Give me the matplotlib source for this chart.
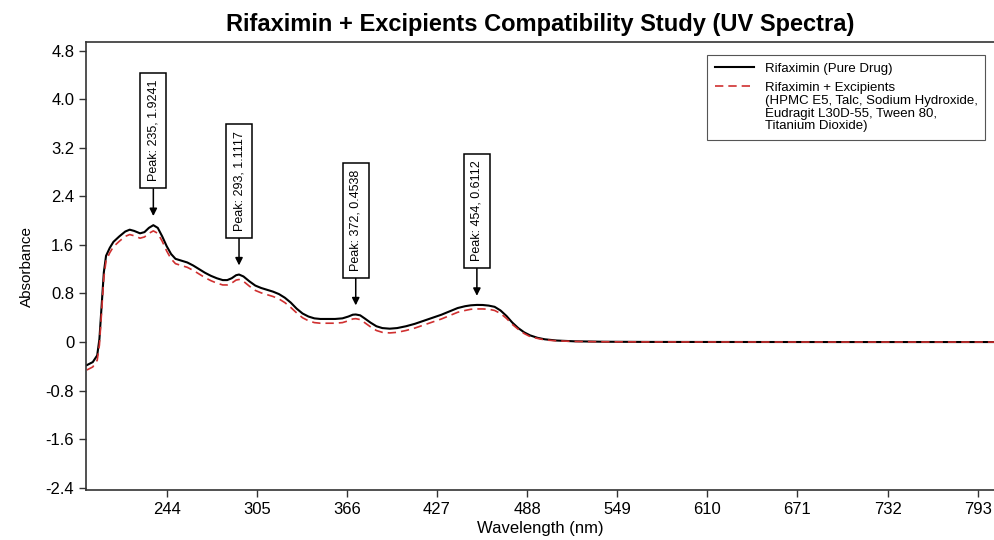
import matplotlib
matplotlib.use("Agg")
import matplotlib.pyplot as plt

plt.rcParams['font.family'] = ['Liberation Sans', 'DejaVu Sans']

# wavelength (nm) and absorbance
wavelength = [190, 194, 197, 198.5, 200, 201.5, 203, 205.5, 208, 212, 216, 219, 222, 226,
              229, 232, 235, 238, 241, 244, 247, 250, 254, 258, 262, 266, 270, 274, 278,
              282, 285, 288, 291, 293, 296, 300, 304, 308, 312, 316, 320, 324, 328, 332,
              336, 340, 344, 348, 353, 358, 363, 367, 370, 372, 375, 378, 382, 386, 390,
              395, 400, 406, 412, 418, 424, 430, 436, 441, 446, 450, 454, 458, 462, 466,
              470, 474, 478, 482, 486, 490, 495, 500, 508, 520, 540, 570, 620, 700, 805]

pure_drug = [-0.38, -0.33, -0.22, 0.05, 0.60, 1.15, 1.42, 1.55, 1.65, 1.74, 1.82, 1.85, 1.83, 1.79,
             1.81, 1.88, 1.9241, 1.88, 1.74, 1.58, 1.45, 1.37, 1.34, 1.31, 1.26, 1.20, 1.14, 1.09, 1.05,
             1.02, 1.02, 1.05, 1.10, 1.1117, 1.08, 1.00, 0.93, 0.89, 0.86, 0.83, 0.79, 0.73, 0.65, 0.55,
             0.47, 0.42, 0.39, 0.38, 0.38, 0.38, 0.39, 0.42, 0.45, 0.4538, 0.44, 0.39, 0.32, 0.26, 0.23,
             0.22, 0.23, 0.26, 0.30, 0.35, 0.40, 0.45, 0.51, 0.56, 0.59, 0.605, 0.6112, 0.61, 0.60, 0.58,
             0.52, 0.43, 0.32, 0.23, 0.16, 0.11, 0.07, 0.045, 0.025, 0.012, 0.005, 0.002, 0.001, 0.0, 0.0]

with_excipients = [-0.46, -0.41, -0.30, -0.05, 0.50, 1.06, 1.34, 1.47, 1.57, 1.66, 1.74, 1.77, 1.75, 1.71,
                   1.73, 1.79, 1.83, 1.79, 1.66, 1.50, 1.37, 1.29, 1.26, 1.23, 1.18, 1.12, 1.06, 1.01, 0.97,
                   0.94, 0.94, 0.97, 1.02, 1.03, 1.00, 0.92, 0.85, 0.81, 0.78, 0.75, 0.71, 0.65, 0.57, 0.48,
                   0.40, 0.35, 0.32, 0.31, 0.31, 0.31, 0.32, 0.35, 0.38, 0.385, 0.37, 0.32, 0.25, 0.19, 0.16,
                   0.15, 0.16, 0.19, 0.23, 0.28, 0.33, 0.38, 0.44, 0.49, 0.52, 0.54, 0.545, 0.545, 0.54, 0.52,
                   0.47, 0.39, 0.29, 0.21, 0.14, 0.09, 0.06, 0.035, 0.02, 0.01, 0.004, 0.002, 0.001, 0.0, 0.0]

peak_wl = [235, 293, 372, 454]
peak_abs = [1.9241, 1.1117, 0.4538, 0.6112]

x_ticks = [244, 305, 366, 427, 488, 549, 610, 671, 732, 793]
y_ticks = [-2.4, -1.6, -0.8, 0, 0.8, 1.6, 2.4, 3.2, 4.0, 4.8]
y_ticklabels = ["-2.4", "-1.6", "-0.8", "0", "0.8", "1.6", "2.4", "3.2", "4.0", "4.8"]

excipient_label = ("Rifaximin + Excipients\n(HPMC E5, Talc, Sodium Hydroxide,\n"
                   "Eudragit L30D-55, Tween 80,\nTitanium Dioxide)")

fig = plt.figure(figsize=(9.95, 5.4), dpi=100)
ax = fig.add_axes([0.0864, 0.0917, 0.9136, 0.8305])

ax.plot(wavelength, pure_drug, color="black", lw=1.5, label="Rifaximin (Pure Drug)")
ax.plot(wavelength, with_excipients, color="#d03030", lw=1.2, ls=(0, (5, 3)), label=excipient_label)

# peak labels with arrows
for wl, a in zip(peak_wl, peak_abs):
    ax.annotate("Peak: %d, %.4f" % (wl, a), xy=(wl, a + 0.15), xytext=(wl, a + 0.72),
                rotation=90, ha="center", va="bottom", fontsize=9,
                bbox=dict(boxstyle="square,pad=0.55", fc="white", ec="black", lw=1.1),
                arrowprops=dict(arrowstyle="-|>", color="black", lw=1.1, shrinkA=0, shrinkB=0,
                                mutation_scale=11))

ax.set_xlim(189.4, 804.7)
ax.set_ylim(-2.444, 4.94)
ax.set_xticks(x_ticks)
ax.set_yticks(y_ticks)
ax.set_yticklabels(y_ticklabels)
ax.tick_params(labelsize=12, length=5, width=1, color="#333333")
ax.spines["right"].set_visible(False)
for s in ["left", "bottom", "top"]:
    ax.spines[s].set_color("#333333")
    ax.spines[s].set_linewidth(1.2)

ax.set_title("Rifaximin + Excipients Compatibility Study (UV Spectra)", fontsize=17,
             fontweight="bold", pad=8)
ax.set_xlabel("Wavelength (nm)", fontsize=12, labelpad=3)
ax.set_ylabel("Absorbance", fontsize=11, labelpad=8)

leg = ax.legend(loc="upper right", bbox_to_anchor=(0.989, 0.971), borderaxespad=0,
                fontsize=9.5, handlelength=3.0, handletextpad=0.8, fancybox=False,
                edgecolor="#555555", framealpha=1, labelspacing=0.55, borderpad=0.55)
leg.get_frame().set_linewidth(0.8)
for t in leg.get_texts():
    t.set_linespacing(1.1)
# put the dashed handle next to the first line of its label
h = leg.legend_handles[1]
h.set_ydata([y + 1.5 * 1.1 * 9.5 * 0.95 for y in h.get_ydata()])

fig.savefig("out.png", dpi=100, facecolor="white")
